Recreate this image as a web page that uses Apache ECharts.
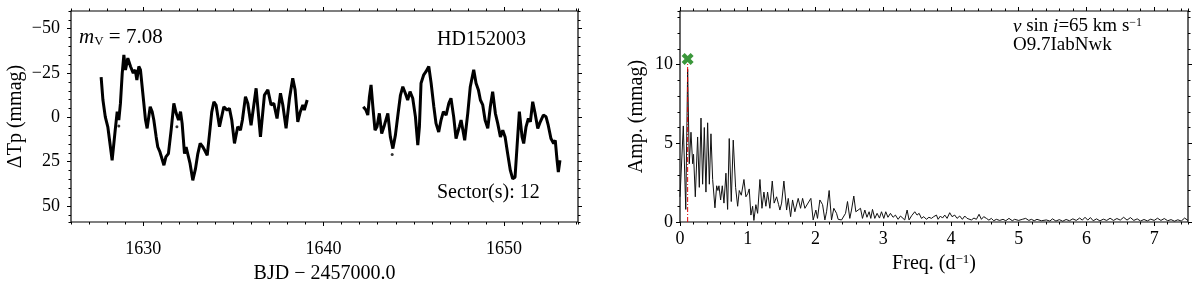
<!DOCTYPE html>
<html><head><meta charset="utf-8">
<script src="https://cdn.jsdelivr.net/npm/echarts@6/dist/echarts.min.js"></script>
<style>html,body{margin:0;padding:0;background:#fff}#c{width:1200px;height:283px}</style>
</head><body><div id="c"></div>
<script>
// ---------- DATA ----------
const lcTime1 = [1627.67,1627.77,1627.90,1628.04,1628.28,1628.45,1628.56,1628.65,1628.74,1628.84,1628.93,1629.02,1629.15,1629.30,1629.45,1629.56,1629.65,1629.76,1629.85,1629.98,1630.13,1630.22,1630.39,1630.50,1630.59,1630.72,1630.81,1630.93,1631.04,1631.15,1631.26,1631.40,1631.55,1631.70,1631.83,1631.96,1632.07,1632.16,1632.29,1632.38,1632.49,1632.60,1632.75,1632.90,1633.03,1633.16,1633.31,1633.43,1633.55,1633.67,1633.80,1633.92,1634.04,1634.23,1634.47,1634.65,1634.78,1634.91,1635.06,1635.24,1635.39,1635.50,1635.67,1635.80,1635.98,1636.26,1636.50,1636.72,1636.91,1637.09,1637.24,1637.42,1637.61,1637.74,1637.92,1638.11,1638.29,1638.42,1638.57,1638.71,1638.85,1638.93,1639.09];
const lcFlux1 = [-22.7,-9.8,-0.3,5.3,24.2,7.2,-3.2,1.5,-7.9,-25,-35.3,-26.8,-33.4,-28.7,-25,-26.8,-21.1,-28.7,-26.8,-13.6,1.5,6.2,-6,-3.2,1.5,11,16.7,19.5,18.5,27,22.3,20.4,7.2,-7.9,-2.3,1.5,-3.2,3.4,20.4,16.7,15.7,26.1,35.5,28.9,20.4,14.7,16.7,19,21.4,10,-3,-8.8,-7,5.3,-6,-4.1,-5.1,1.5,14.7,5.3,7.2,1.5,-11.7,-7.9,4.4,-16.4,11,-12.6,-15.5,-7,-7.9,0.6,-13.6,-7,6.2,-10.8,-22.1,-15.5,2.5,-3.2,-7,-4.1,-9.8];
const lcTime2 = [1642.20,1642.35,1642.45,1642.54,1642.63,1642.73,1642.85,1642.96,1643.09,1643.22,1643.37,1643.56,1643.70,1643.84,1643.98,1644.13,1644.26,1644.39,1644.53,1644.66,1644.79,1644.94,1645.09,1645.22,1645.31,1645.40,1645.55,1645.68,1645.83,1645.96,1646.11,1646.23,1646.38,1646.51,1646.64,1646.79,1646.94,1647.06,1647.21,1647.34,1647.52,1647.62,1647.82,1647.99,1648.13,1648.32,1648.45,1648.58,1648.69,1648.82,1648.95,1649.10,1649.24,1649.37,1649.52,1649.65,1649.80,1649.93,1650.06,1650.20,1650.35,1650.48,1650.61,1650.72,1650.85,1651.00,1651.09,1651.22,1651.35,1651.46,1651.59,1651.72,1651.87,1652.01,1652.18,1652.33,1652.45,1652.60,1652.75,1652.84,1652.94,1653.01,1653.10];
const lcFlux2 = [-6,-4.1,-1.3,-11.7,-18.3,-6,7.2,5.3,-2.3,9.1,4.4,-2.3,11,17.6,10,-2.3,-12.6,-17.3,-13.6,-9.8,-14.5,-10.8,-0.3,15.7,5.3,-19.3,-24,-25.9,-28.7,-19.3,-6,3.4,8.2,1.5,-3.2,-1.3,-7.9,-10.8,-0.3,11.9,5.3,1.5,12.9,-2.3,-17.3,-26.8,-19.3,-15.5,-9.8,-7,1.5,6.2,-6,-14.5,-2.3,3.4,11,7.2,11,20.4,29.9,34.6,33.7,16.7,-3.2,11,14.7,5.3,0.6,2.5,-8.8,-2.3,6.2,2.5,-1.3,-0.3,4.4,11.9,14.7,12.9,24.2,30.8,24.2];
const outTime = [1628.65,1631.87,1643.80];
const outFlux = [4.9,5.3,21.0];

const specFreq = [0.000,0.049,0.085,0.113,0.137,0.162,0.187,0.200,0.226,0.260,0.285,0.310,0.334,0.359,0.383,0.408,0.433,0.457,0.482,0.500,0.516,0.541,0.560,0.575,0.600,0.624,0.649,0.678,0.703,0.727,0.757,0.786,0.821,0.851,0.875,0.905,0.944,0.973,1.000,1.022,1.047,1.072,1.091,1.120,1.146,1.180,1.210,1.239,1.268,1.293,1.327,1.362,1.390,1.426,1.456,1.475,1.500,1.534,1.574,1.598,1.633,1.662,1.696,1.745,1.780,1.810,1.844,1.870,1.932,1.966,2.006,2.030,2.065,2.105,2.139,2.164,2.202,2.237,2.271,2.311,2.335,2.385,2.444,2.473,2.507,2.532,2.566,2.596,2.630,2.665,2.694,2.729,2.760,2.792,2.817,2.842,2.876,2.910,2.945,2.975,3.009,3.038,3.070,3.107,3.146,3.180,3.220,3.255,3.318,3.353,3.382,3.420,3.466,3.500,3.530,3.565,3.599,3.638,3.675,3.712,3.746,3.786,3.810,3.845,3.875,3.909,3.943,3.982,4.016,4.056,4.090,4.130,4.169,4.204,4.238,4.267,4.302,4.340,4.376,4.415,4.450,4.484,4.524,4.560,4.597,4.631,4.671,4.720,4.769,4.810,4.857,4.906,4.940,5.000,5.054,5.103,5.150,5.187,5.230,5.270,5.335,5.408,5.46,5.50,5.55,5.60,5.65,5.70,5.75,5.80,5.85,5.90,5.94,5.98,6.02,6.06,6.10,6.15,6.20,6.25,6.30,6.35,6.40,6.45,6.50,6.55,6.60,6.65,6.70,6.75,6.80,6.85,6.90,6.95,7.00,7.05,7.10,7.15,7.20,7.25,7.30,7.35,7.40,7.45,7.50];
const specAmp = [1.6,6.1,0.8,9.7,3.7,5.7,3.7,4.3,1.6,5.4,2.2,6.6,2.4,6.0,1.9,6.3,2.4,5.6,2.7,2.8,0.9,2.3,2.0,2.3,1.4,2.3,1.2,3.1,0.8,5.3,1.3,5.2,2.2,1.0,2.0,1.7,2.7,1.6,1.8,2.1,0.44,1.0,0.1,1.1,0.55,2.7,0.87,1.9,1.0,1.9,0.87,2.6,1.2,1.6,1.1,0.76,1.2,2.6,0.76,1.5,0.34,1.4,0.65,1.5,0.87,1.5,0.87,0.8,1.5,0.13,0.76,0.23,1.4,1.1,0.13,0.65,2.0,0.13,0.87,0.55,0.17,0.13,0.55,1.3,0.23,0.76,1.65,0.65,0.76,0.87,0.23,0.76,0.3,0.65,0.23,0.8,0.23,0.55,0.25,0.65,0.23,0.65,0.3,0.55,0.3,0.44,0.17,0.38,0.13,0.76,0.13,0.4,0.65,0.44,0.55,0.23,0.34,0.17,0.3,0.23,0.34,0.44,0.17,0.38,0.25,0.44,0.23,0.59,0.34,0.44,0.23,0.38,0.17,0.38,0.23,0.34,0.13,0.25,0.17,0.49,0.17,0.34,0.23,0.12,0.23,0.08,0.17,0.1,0.17,0.08,0.23,0.08,0.17,0.1,0.17,0.23,0.1,0.17,0.08,0.17,0.08,0.13,0.06,0.2,0.06,0.15,0.05,0.16,0.08,0.2,0.1,0.25,0.12,0.3,0.12,0.28,0.08,0.2,0.07,0.18,0.1,0.24,0.1,0.22,0.12,0.3,0.12,0.28,0.1,0.2,0.06,0.16,0.07,0.18,0.1,0.24,0.1,0.22,0.08,0.15,0.05,0.14,0.06,0.25,0.1];

const peakFreq = 0.113;
const peakLineTop = 10.1;
const markerAmp = 10.35;

const lcTickX = [1630, 1640, 1650];
const lcTickY = [-50, -25, 0, 25, 50];
const specTickX = [0, 1, 2, 3, 4, 5, 6, 7];
const specTickY = [0, 5, 10];

// ---------- CHART ----------
const FONT = 'Liberation Serif';
const chart = echarts.init(document.getElementById('c'), null, {renderer: 'canvas'});
const zip = (a, b) => a.map((v, i) => [v, b[i]]);
const lab = (extra) => Object.assign({fontSize: 18, fontFamily: FONT, color: '#000'}, extra);
const minus = v => (v < 0 ? '\u2212' + (-v) : String(v));

function ax(gridIndex, position, min, max, o) {
  const a = {
    gridIndex, type: 'value', position, min, max,
    axisLine: {show: false, onZero: false},
    splitLine: {show: false},
    axisTick: {show: true, inside: false, length: o.len || 2.5, lineStyle: {color: '#000', width: 1}},
    axisLabel: {show: false},
    inverse: !!o.inverse
  };
  if (o.interval) a.interval = o.interval;
  if (o.ticks) a.axisTick.customValues = o.ticks;
  if (o.labels) a.axisLabel = lab({show: true, customValues: o.labels, margin: o.margin, formatter: o.fmt || (v => String(v))});
  if (o.name) {
    a.name = o.name; a.nameLocation = 'middle'; a.nameGap = o.nameGap;
    if (o.nameRotate !== undefined) a.nameRotate = o.nameRotate;
    a.nameTextStyle = lab({fontSize: 20, lineHeight: 22, rich: o.rich || {}});
  }
  return a;
}

const LX = [1626, 1654.1], LY = [-60, 59], RX = [0, 7.5], RY = [0, 13.4];

const xAxis = [
  ax(0, 'bottom', LX[0], LX[1], {len: 4, ticks: lcTickX, labels: lcTickX, margin: 18, name: 'BJD \u2212 2457000.0', nameGap: 28}),
  ax(0, 'bottom', LX[0], LX[1], {interval: 1}),
  ax(0, 'top', LX[0], LX[1], {len: 4, ticks: lcTickX}),
  ax(0, 'top', LX[0], LX[1], {interval: 1}),
  ax(1, 'bottom', RX[0], RX[1], {len: 4, ticks: specTickX, labels: specTickX, margin: 8,
     name: 'Freq. (d{sup|\u22121})', nameGap: 30,
     rich: {sup: {fontSize: 13, lineHeight: 13, verticalAlign: 'top', fontFamily: FONT, color: '#000'}}}),
  ax(1, 'bottom', RX[0], RX[1], {interval: 0.2}),
  ax(1, 'top', RX[0], RX[1], {len: 4, ticks: specTickX}),
  ax(1, 'top', RX[0], RX[1], {interval: 0.2})
];
const yAxis = [
  ax(0, 'left', LY[0], LY[1], {inverse: true, len: 4, ticks: lcTickY, labels: lcTickY, margin: 11, fmt: minus,
     name: '\u0394Tp (mmag)', nameGap: 44, nameRotate: 90}),
  ax(0, 'left', LY[0], LY[1], {inverse: true, interval: 5}),
  ax(0, 'right', LY[0], LY[1], {inverse: true, len: 4, ticks: lcTickY}),
  ax(0, 'right', LY[0], LY[1], {inverse: true, interval: 5}),
  ax(1, 'left', RY[0], RY[1], {len: 4, ticks: specTickY, labels: specTickY, margin: 7,
     name: 'Amp. (mmag)', nameGap: 32, nameRotate: 90}),
  ax(1, 'left', RY[0], RY[1], {interval: 1}),
  ax(1, 'right', RY[0], RY[1], {len: 4, ticks: specTickY}),
  ax(1, 'right', RY[0], RY[1], {interval: 1})
];

const ttl = (text, left, top, rich, size) => ({
  text, left, top, padding: 0,
  textStyle: {fontSize: size || 20, fontFamily: FONT, fontWeight: 'normal', color: '#000', lineHeight: size || 20, rich: rich || {}}
});
const mkRich = (s) => ({
  it: {fontStyle: 'italic', fontSize: s, fontFamily: FONT, color: '#000', lineHeight: s},
  sub: {fontSize: 13, fontFamily: FONT, color: '#000', lineHeight: 13, verticalAlign: 'bottom'},
  sup: {fontSize: 12, fontFamily: FONT, color: '#000', lineHeight: 12, verticalAlign: 'top'}
});

const gridBase = {show: true, borderColor: '#000', borderWidth: 1.2, backgroundColor: 'transparent',
  containLabel: false, outerBoundsMode: 'none'};

const option = {
  animation: false,
  backgroundColor: '#fff',
  title: [
    ttl('{it|m}{sub|V} = 7.08', 79, 27, mkRich(21), 21),
    ttl('HD152003', 437, 30),
    ttl('Sector(s): 12', 437, 183),
    ttl('{it|v} sin {it|i}=65 km s{sup|\u22121}', 1013, 17, mkRich(19), 19),
    ttl('O9.7IabNwk', 1013, 36, null, 19)
  ],
  grid: [
    Object.assign({left: 71, top: 11, width: 507, height: 211}, gridBase),
    Object.assign({left: 680, top: 11, width: 508, height: 211}, gridBase)
  ],
  xAxis, yAxis,
  series: [
    {type: 'line', xAxisIndex: 0, yAxisIndex: 0, data: zip(lcTime1, lcFlux1), showSymbol: false, symbol: 'none',
     lineStyle: {color: '#000', width: 3}, z: 3},
    {type: 'line', xAxisIndex: 0, yAxisIndex: 0, data: zip(lcTime2, lcFlux2), showSymbol: false, symbol: 'none',
     lineStyle: {color: '#000', width: 3}, z: 3},
    {type: 'scatter', xAxisIndex: 0, yAxisIndex: 0, data: zip(outTime, outFlux), symbolSize: 3,
     itemStyle: {color: '#000'}},
    {type: 'line', xAxisIndex: 4, yAxisIndex: 4, data: zip(specFreq, specAmp), showSymbol: false, symbol: 'none',
     lineStyle: {color: '#111', width: 1}, z: 3},
    {type: 'line', xAxisIndex: 4, yAxisIndex: 4, data: [[peakFreq, 0], [peakFreq, peakLineTop]], showSymbol: false, symbol: 'none',
     lineStyle: {color: '#e00000', width: 1, type: [5, 2, 1, 2]}, z: 4},
    {type: 'scatter', xAxisIndex: 4, yAxisIndex: 4, data: [[peakFreq, markerAmp]], symbolSize: 12,
     symbol: 'path://M0,2.5 L2.5,0 L5,2.5 L7.5,0 L10,2.5 L7.5,5 L10,7.5 L7.5,10 L5,7.5 L2.5,10 L0,7.5 L2.5,5 Z',
     itemStyle: {color: '#0a7d0a'}, z: 5}
  ]
};
chart.setOption(option);
</script>
</body></html>
